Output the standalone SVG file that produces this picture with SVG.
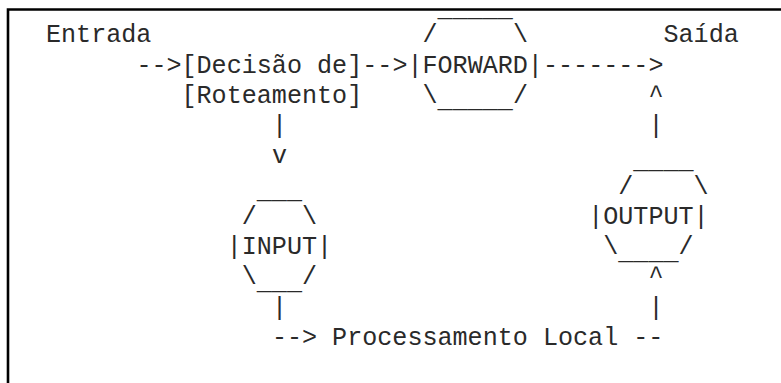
<svg xmlns="http://www.w3.org/2000/svg" width="781" height="383" viewBox="0 0 781 383">
<style>
text{font-family:"Liberation Mono","Courier New",monospace;font-size:25.1px;fill:#2a2a2a;white-space:pre}
.frame{stroke:#000;stroke-width:2.6;fill:none}
</style>
<rect width="781" height="383" fill="#fff"/>
<path class="frame" d="M8 383V9.5H781"/>
<g id="entrada"><text x="46" y="42">Entrada</text></g>
<g id="saida"><text x="663.5" y="42">Saída</text></g>
<g id="decisao">
<text x="181.5" y="72.5">[Decisão de]</text>
<text x="181.5" y="102.6">[Roteamento]</text>
</g>
<g id="forward">
<text x="437.6" y="16">_____</text>
<text x="422.5" y="42">/</text>
<text x="512.9" y="42">\</text>
<text x="407.4" y="72.5">|FORWARD|</text>
<text x="422.5" y="102.6">\</text>
<text x="437.6" y="107">_____</text>
<text x="512.9" y="102.6">/</text>
</g>
<g id="input">
<text x="256.8" y="198">___</text>
<text x="241.8" y="223.8">/</text>
<text x="302" y="223.8">\</text>
<text x="226.7" y="254.1">|INPUT|</text>
<text x="241.8" y="284.4">\</text>
<text x="256.8" y="289">___</text>
<text x="302" y="284.4">/</text>
</g>
<g id="output">
<text x="633.3" y="168">____</text>
<text x="618.3" y="193.5">/</text>
<text x="693.6" y="193.5">\</text>
<text x="588.2" y="223.8">|OUTPUT|</text>
<text x="603.2" y="254.1">\</text>
<text x="618.3" y="258.5">____</text>
<text x="678.5" y="254.1">/</text>
</g>
<g id="processamento"><text x="332.1" y="345">Processamento Local</text></g>
<g id="connectors">
<text x="136.4" y="72.5">--&gt;</text>
<text x="362.3" y="72.5">--&gt;</text>
<text x="543" y="72.5">-------&gt;</text>
<text x="648.4" y="102.6">^</text>
<text x="648.4" y="132.9">|</text>
<text x="271.9" y="132.9">|</text>
<text x="271.9" y="163.2">v</text>
<text x="648.4" y="284.4">^</text>
<text x="271.9" y="314.7">|</text>
<text x="648.4" y="314.7">|</text>
<text x="271.9" y="345">--&gt;</text>
<text x="633.3" y="345">--</text>
</g>
</svg>
